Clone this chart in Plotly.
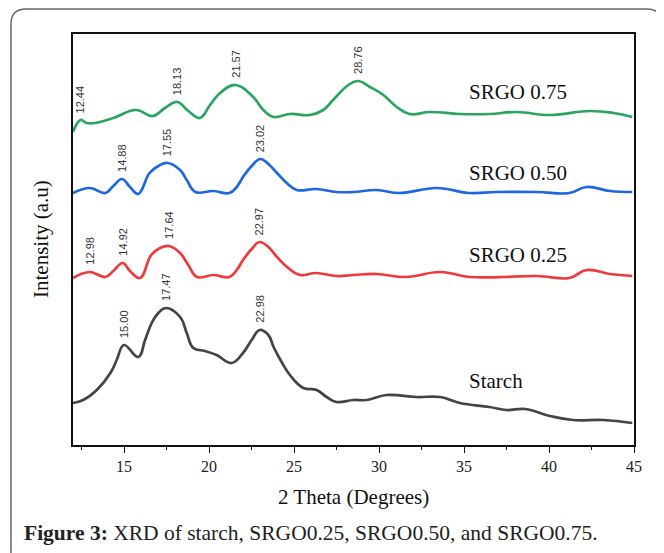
import plotly.graph_objects as go

# ---- data ----
starch_x = [12.0, 12.6, 13.4, 14.2, 14.57, 15.0, 15.84, 16.24, 16.63, 17.02, 17.47, 18.3, 18.69, 19.08, 19.76,
            20.45, 21.33, 22.0, 22.51, 22.98, 23.49, 23.8, 24.27, 24.76, 25.55, 26.33, 26.92, 27.5, 28.5, 29.27,
            30.45, 32.2, 33.6, 34.76, 36.5, 37.5, 38.6, 40.06, 41.4, 43.2, 44.9]
starch_y = [42, 45, 55, 72, 85, 100, 88, 105, 122, 132, 137, 128, 112, 97, 94,
            90, 82, 92, 105, 115, 110, 98, 83, 70, 57, 55, 48, 43, 45, 45,
            50, 48, 48, 42, 38, 35, 36, 29, 25, 25, 22]

srgo25_x = [12.0, 12.98, 13.9, 14.37, 14.92, 15.35, 15.94, 16.6, 17.12, 17.64, 18.3, 18.78, 19.3, 20.25, 21.2,
            21.63, 22.0, 22.51, 22.97, 23.49, 24.0, 24.66, 25.35, 26.3, 27.5, 28.5, 29.86, 31.6, 33.6, 35.35,
            37.3, 39.3, 41.2, 42.2, 43.6, 44.9]
srgo25_y = [167, 173, 168, 174, 182, 174, 167, 190, 197, 199, 192, 180, 168, 170, 168,
            175, 185, 196, 203, 198, 188, 177, 170, 172, 169, 170, 171, 168, 173, 168,
            168, 169, 167, 175, 171, 169]

srgo50_x = [12.0, 13.0, 13.9, 14.37, 14.88, 15.35, 15.84, 16.5, 17.02, 17.55, 18.3, 18.69, 19.2, 20.25, 21.2,
            21.63, 22.0, 22.51, 23.02, 23.49, 24.0, 24.57, 25.16, 26.3, 27.5, 28.5, 29.86, 31.2, 33.4, 35.35,
            36.9, 39.3, 41.2, 42.2, 43.6, 44.9]
srgo50_y = [252, 257, 252, 259, 266, 258, 251, 272, 279, 282, 275, 265, 253, 254, 252,
            258, 268, 279, 286, 281, 272, 262, 255, 256, 253, 253, 255, 252, 257, 252,
            253, 253, 252, 258, 254, 253]

srgo75_x = [12.0, 12.44, 12.8, 13.3, 14.37, 15.7, 16.7, 17.41, 18.13, 18.78, 19.47, 20.06, 20.65, 21.57, 22.6,
            23.2, 23.8, 24.76, 25.94, 26.72, 27.3, 28.2, 28.76, 29.47, 30.26, 31.04, 31.8, 33.0, 34.76, 36.5,
            38.1, 40.06, 42.4, 43.8, 44.9]
srgo75_y = [313, 325, 322, 322, 327, 335, 329, 337, 343, 334, 327, 340, 352, 360, 348,
            335, 328, 331, 330, 335, 345, 360, 364, 358, 350, 338, 331, 333, 331, 331,
            333, 330, 334, 332, 328]

series_names = ["Starch", "SRGO 0.25", "SRGO 0.50", "SRGO 0.75"]
series_x = [starch_x, srgo25_x, srgo50_x, srgo75_x]
series_y = [starch_y, srgo25_y, srgo50_y, srgo75_y]
series_colors = ["#444444", "#ee3a3a", "#1f67e0", "#2aa560"]
series_label_y = [64, 190, 272, 353]

peaks = {
    "Starch": ["15.00", "17.47", "22.98"],
    "SRGO 0.25": ["12.98", "14.92", "17.64", "22.97"],
    "SRGO 0.50": ["14.88", "17.55", "23.02"],
    "SRGO 0.75": ["12.44", "18.13", "21.57", "28.76"],
}

x_ticks = [15, 20, 25, 30, 35, 40, 45]

# ---- layout geometry (page pixels; page body has an 8px margin) ----
OFF = 8
PW, PH = 664, 553
L, R, T, B = 73, 634, 34, 445
pw, ph = R - L, B - T


def px_to_paper(px, py):
    return (px - L) / pw, (B - py) / ph


fig = go.Figure()
for name, xs, ys, col in zip(series_names, series_x, series_y, series_colors):
    fig.add_trace(go.Scatter(x=xs, y=ys, mode="lines", name=name,
                             line=dict(color=col, width=2.7, shape="spline", smoothing=1.2),
                             showlegend=False, hoverinfo="skip"))

annotations = []
for name, xs, ys in zip(series_names, series_x, series_y):
    for lab in peaks[name]:
        xv = float(lab)
        yv = ys[min(range(len(xs)), key=lambda i: abs(xs[i] - xv))]
        annotations.append(dict(x=xv, y=yv, text=lab, showarrow=False, textangle=-90,
                                xanchor="center", yanchor="bottom", yshift=5,
                                font=dict(family="Liberation Sans, Arial", size=11, color="#333333")))

for name, ly in zip(series_names, series_label_y):
    annotations.append(dict(x=35.2, y=ly, text=name, showarrow=False, xanchor="left", yanchor="middle",
                            font=dict(family="Liberation Serif, Times New Roman", size=21, color="#111111")))

serif = "Liberation Serif, Times New Roman"
ax_x, ax_y = px_to_paper(353, 497)
annotations.append(dict(xref="paper", yref="paper", x=ax_x, y=ax_y, text="2 Theta (Degrees)",
                        showarrow=False, xanchor="center", yanchor="middle",
                        font=dict(family=serif, size=21, color="#111111")))
ay_x, ay_y = px_to_paper(41, 239)
annotations.append(dict(xref="paper", yref="paper", x=ay_x, y=ay_y, text="Intensity (a.u)", textangle=-90,
                        showarrow=False, xanchor="center", yanchor="middle",
                        font=dict(family=serif, size=21, color="#111111")))
cx, cy = px_to_paper(22, 533)
annotations.append(dict(xref="paper", yref="paper", x=cx, y=cy,
                        text="<b>Figure 3:</b> XRD of starch, SRGO0.25, SRGO0.50, and SRGO0.75.",
                        showarrow=False, xanchor="left", yanchor="middle",
                        font=dict(family=serif, size=21.5, color="#222222")))

# outer rounded border
x0, y0 = px_to_paper(11, 9)
x1, y1 = px_to_paper(662, 556)
rx = 15 / pw
ry = 15 / ph
path = (f"M {x0+rx},{y0} L {x1-rx},{y0} Q {x1},{y0} {x1},{y0-ry} "
        f"L {x1},{y1} L {x0},{y1} L {x0},{y0-ry} Q {x0},{y0} {x0+rx},{y0} Z")
shapes = [dict(type="path", xref="paper", yref="paper", path=path,
               line=dict(color="#666666", width=1.5), fillcolor="rgba(0,0,0,0)", layer="below")]

fig.update_layout(
    width=PW - OFF, height=PH - OFF,
    margin=dict(l=L - OFF, r=PW - R, t=T - OFF, b=PH - B, pad=0),
    paper_bgcolor="white", plot_bgcolor="white",
    annotations=annotations, shapes=shapes,
    xaxis=dict(range=[12, 45], tickvals=x_ticks, ticks="outside", ticklen=6, tickwidth=1.3,
               tickcolor="#111", showgrid=False, zeroline=False, showline=True, linecolor="#111",
               linewidth=1.6, mirror=True,
               minor=dict(dtick=2.5, tick0=12.5, ticks="outside", ticklen=3.5, tickwidth=1.1, tickcolor="#111"),
               tickfont=dict(family=serif, size=16, color="#222")),
    yaxis=dict(range=[0, ph], showticklabels=False, ticks="", showgrid=False, zeroline=False,
               showline=True, linecolor="#111", linewidth=1.6, mirror=True),
)

fig.write_html("out.html")
